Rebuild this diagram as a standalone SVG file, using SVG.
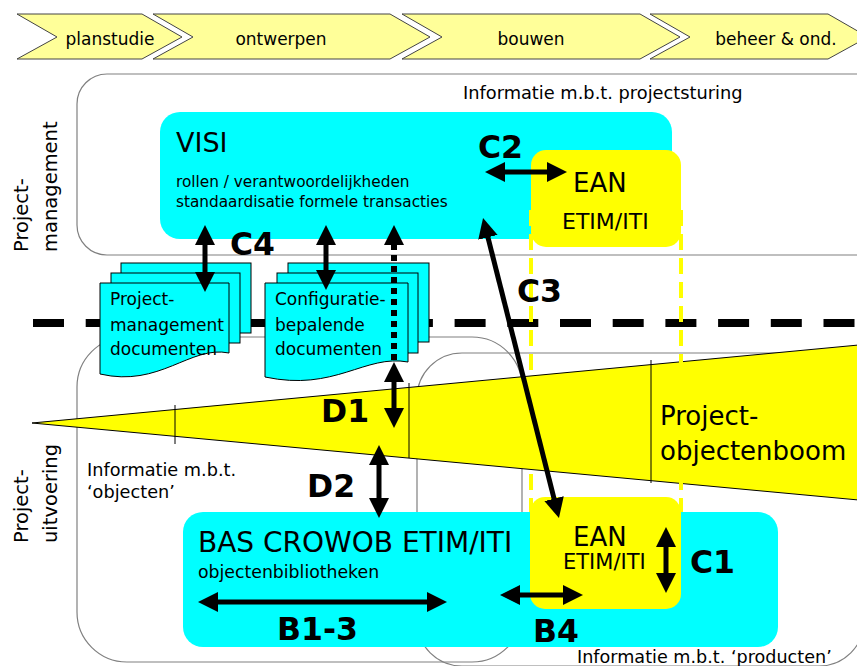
<svg xmlns="http://www.w3.org/2000/svg" width="857" height="666" viewBox="0 0 857 666">
<defs>
<marker id="ah" viewBox="0 0 20 20" refX="1" refY="10" markerWidth="20" markerHeight="20" markerUnits="userSpaceOnUse" orient="auto-start-reverse"><path d="M0,0 L20,10 L0,20 Z" fill="#000"/></marker>
<style>
.chev{fill:#FFFF99;stroke:#444;stroke-width:1}
.t{font-family:"DejaVu Sans",Verdana,sans-serif;fill:#000}
.lbl{font-family:"DejaVu Sans",Verdana,sans-serif;font-weight:bold;font-size:31.5px;fill:#000}
.frame{fill:none;stroke:#808080;stroke-width:1.2}
.arr{stroke:#000;stroke-width:5;fill:none;marker-start:url(#ah);marker-end:url(#ah)}
.doc{fill:#00FFFF;stroke:#000;stroke-width:1}
.ydash{stroke:#FFFF00;stroke-width:4;stroke-dasharray:16 8}
.tick{stroke:#000;stroke-width:1}
</style>
</defs>
<rect width="857" height="666" fill="#fff"/>

<g id="phases">
<polygon class="chev" points="17,14 142,14 182,37 142,59 17,59 57,37"/>
<polygon class="chev" points="153,14 390,14 430,37 390,59 153,59 193,37"/>
<polygon class="chev" points="402,14 640,14 680,37 640,59 402,59 442,37"/>
<polygon class="chev" points="650,14 828,14 868,37 828,59 650,59 690,37"/>
<g class="t" font-size="17" text-anchor="middle">
<text x="110" y="45">planstudie</text>
<text x="281" y="45">ontwerpen</text>
<text x="531" y="45">bouwen</text>
<text x="776" y="45">beheer &amp; ond.</text>
</g>
</g>

<g id="frames">
<rect class="frame" x="77" y="74" width="840" height="181" rx="30"/>
<rect class="frame" x="77" y="337" width="445" height="325" rx="50"/>
<rect class="frame" x="417" y="353" width="447" height="313" rx="45"/>
</g>

<g id="side-labels" class="t" font-size="19.5">
<text transform="translate(28,252) rotate(-90)">Project-</text>
<text transform="translate(57,252) rotate(-90)">management</text>
<text transform="translate(28,543) rotate(-90)">Project-</text>
<text transform="translate(57,543) rotate(-90)">uitvoering</text>
</g>

<g id="info-texts" class="t">
<text x="463" y="99" font-size="17.8">Informatie m.b.t. projectsturing</text>
<text x="87" y="476" font-size="17.7">Informatie m.b.t.</text>
<text x="87" y="498" font-size="17.7">‘objecten’</text>
<text x="577" y="663" font-size="17.6">Informatie m.b.t. ‘producten’</text>
</g>

<line id="divider" x1="33" y1="323" x2="857" y2="323" stroke="#000" stroke-width="8" stroke-dasharray="31 21.7"/>

<g id="visi">
<rect x="160" y="112" width="512" height="127" rx="20" fill="#00FFFF"/>
<text class="t" x="176" y="152" font-size="27">VISI</text>
<text class="t" x="176" y="187" font-size="15.3">rollen / verantwoordelijkheden</text>
<text class="t" x="176" y="207" font-size="15.3">standaardisatie formele transacties</text>
</g>

<g id="ean-top">
<rect x="531" y="150" width="150" height="97" rx="15" fill="#FFFF00"/>
<text class="t" x="573" y="192" font-size="26">EAN</text>
<text class="t" x="562" y="229" font-size="22">ETIM/ITI</text>
</g>

<g id="doc-pm">
<rect class="doc" x="121" y="263" width="130" height="70"/>
<rect class="doc" x="111" y="273" width="129" height="70"/>
<path class="doc" d="M100,283 H229 V353 C190,345 160,388 100,374 Z"/>
<g class="t" font-size="17">
<text x="110" y="305">Project-</text>
<text x="110" y="331">management</text>
<text x="110" y="355">documenten</text>
</g>
</g>

<g id="doc-config">
<rect class="doc" x="288" y="263" width="141" height="79"/>
<rect class="doc" x="277" y="273" width="141" height="80"/>
<path class="doc" d="M265,283 H408 V362 C365,354 335,392 265,377 Z"/>
<g class="t" font-size="17">
<text x="275" y="305">Configuratie-</text>
<text x="275" y="331">bepalende</text>
<text x="275" y="355">documenten</text>
</g>
</g>

<g id="objectenboom">
<polygon points="32,423 880,343 880,502" fill="#FFFF00" stroke="#000" stroke-width="1"/>
<line class="tick" x1="175" y1="405" x2="175" y2="444"/>
<line class="tick" x1="409" y1="383" x2="409" y2="458"/>
<line class="tick" x1="651" y1="360" x2="651" y2="483"/>
</g>

<g id="ean-links">
<line class="ydash" x1="531" y1="210" x2="531" y2="522"/>
<line class="ydash" x1="681" y1="210" x2="681" y2="522"/>
</g>

<g id="objectenboom-label" class="t" font-size="26">
<text x="660" y="425">Project-</text>
<text x="660" y="460">objectenboom</text>
</g>

<g id="bas">
<rect x="183" y="512" width="595" height="135" rx="20" fill="#00FFFF"/>
<text class="t" x="198" y="552" font-size="28">BAS CROWOB ETIM/ITI</text>
<text class="t" x="198" y="578" font-size="17.3">objectenbibliotheken</text>
</g>

<g id="ean-bottom">
<rect x="530" y="497" width="151" height="112" rx="15" fill="#FFFF00"/>
<text class="t" x="573" y="546" font-size="26">EAN</text>
<text class="t" x="563" y="569" font-size="21">ETIM/ITI</text>
</g>

<g id="connectors">
<path class="arr" d="M504,172 H548"/>
<path class="arr" d="M205,244 V273"/>
<path class="arr" d="M326,244 V271"/>
<path d="M394,244 V361" stroke="#000" stroke-width="6" stroke-dasharray="6 5" fill="none" marker-start="url(#ah)"/>
<path class="arr" d="M487.7,236.4 L554.3,499.6"/>
<path class="arr" d="M394,381 V409"/>
<path class="arr" d="M379,464 V499"/>
<path class="arr" d="M666,546 V574"/>
<path class="arr" d="M519,595 H564"/>
<path class="arr" d="M217,602 H428"/>
</g>

<g id="labels">
<text class="lbl" x="478" y="158">C2</text>
<text class="lbl" x="230" y="255">C4</text>
<text class="lbl" x="517" y="302">C3</text>
<text class="lbl" x="321" y="422">D1</text>
<text class="lbl" x="307" y="497">D2</text>
<text class="lbl" x="690" y="573">C1</text>
<text class="lbl" x="533" y="642">B4</text>
<text class="lbl" x="277" y="640">B1-3</text>
</g>
</svg>
